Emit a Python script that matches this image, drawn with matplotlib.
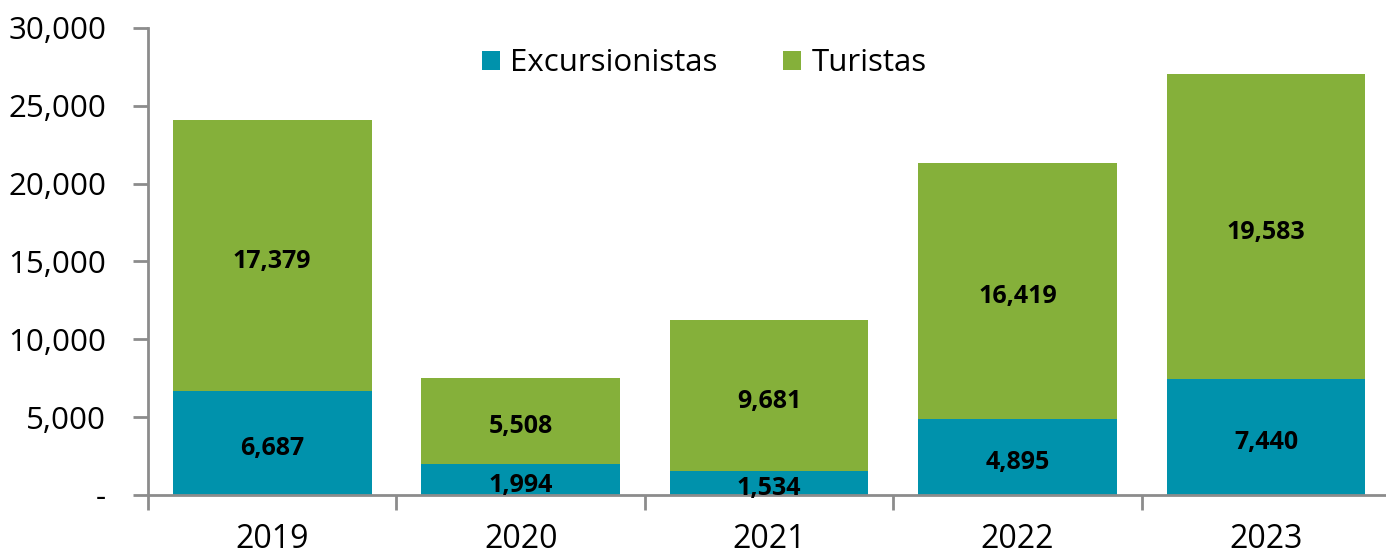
import matplotlib
matplotlib.use("Agg")
import matplotlib.pyplot as plt
from matplotlib.ticker import FuncFormatter, FixedLocator
import numpy as np

years = ["2019", "2020", "2021", "2022", "2023"]
excursionistas = [6687, 1994, 1534, 4895, 7440]
turistas = [17379, 5508, 9681, 16419, 19583]

teal = "#0092AC"
green = "#85B03A"
gray = "#8C8C8C"

plt.rcParams["font.family"] = ["Open Sans", "DejaVu Sans"]

fig = plt.figure(figsize=(13.86, 5.54), dpi=100)
ax = fig.add_axes([0.1068, 0.1065, 0.8932 + 0.003, 0.843])

x = np.arange(len(years))
b1 = ax.bar(x, excursionistas, width=0.8, color=teal, label="Excursionistas")
b2 = ax.bar(x, turistas, width=0.8, bottom=excursionistas, color=green, label="Turistas")

# etiquetas de valor, un poco bajo el centro del segmento como en el original
for i in range(len(years)):
    ax.annotate(f"{excursionistas[i]:,}", (x[i], excursionistas[i] / 2),
                xytext=(0, -4), textcoords="offset points", ha="center", va="center",
                fontsize=18, fontweight="bold", color="black")
    ax.annotate(f"{turistas[i]:,}", (x[i], excursionistas[i] + turistas[i] / 2),
                xytext=(0, -4), textcoords="offset points", ha="center", va="center",
                fontsize=18, fontweight="bold", color="black")

ax.set_xlim(-0.5, 4.5)
ax.set_ylim(0, 30000)
ax.set_yticks(range(0, 30001, 5000))
ax.yaxis.set_major_formatter(FuncFormatter(lambda v, p: "-" if v == 0 else f"{v:,.0f}"))

ax.set_xticks(x)
ax.set_xticklabels(years)
ax.xaxis.set_minor_locator(FixedLocator(np.arange(-0.5, 4.6, 1.0)))
ax.tick_params(axis="x", which="major", length=0, pad=20, labelsize=23)
ax.tick_params(axis="x", which="minor", length=11, width=2, color=gray)
ax.tick_params(axis="y", length=11, width=2, color=gray, labelsize=22.5, pad=19)

for s in ["top", "right"]:
    ax.spines[s].set_visible(False)
for s in ["left", "bottom"]:
    ax.spines[s].set_color(gray)
    ax.spines[s].set_linewidth(2)

ax.legend(loc="upper center", bbox_to_anchor=(0.448, 1.017), ncol=2, frameon=False,
          fontsize=22.5, handlelength=0.55, handleheight=0.55, columnspacing=2.1,
          handletextpad=0.35)

fig.savefig("out.png", dpi=100)
